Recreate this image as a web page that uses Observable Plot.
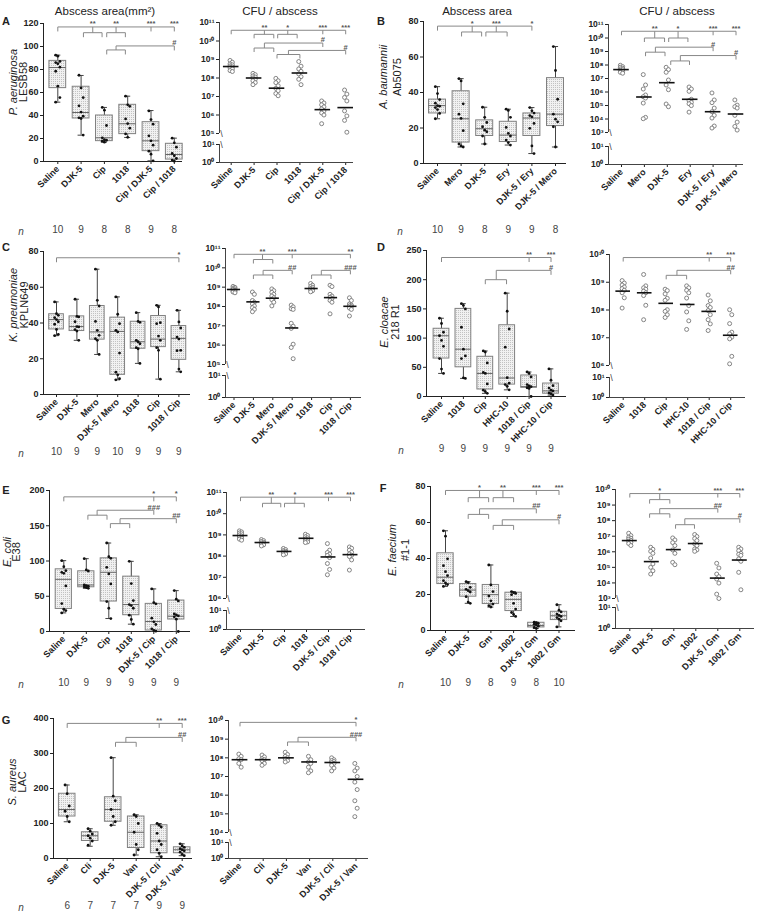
<!DOCTYPE html>
<html><head><meta charset="utf-8">
<script src="https://cdn.jsdelivr.net/npm/d3@7"></script>
<script src="https://cdn.jsdelivr.net/npm/@observablehq/plot@0.6"></script>
<style>
body{margin:0;background:#fff;}
#fig{position:relative;width:757px;height:920px;font-family:Arial,"Liberation Sans",Helvetica,sans-serif;color:#222;overflow:hidden;background:#fff}
.lbl{position:absolute;white-space:nowrap;transform:translate(-50%,-50%);line-height:1}
</style></head><body>
<svg width="0" height="0" style="position:absolute"><defs><pattern id="stip" width="2" height="2" patternUnits="userSpaceOnUse"><rect width="2" height="2" fill="#f1f1f1"/><rect width="1" height="1" fill="#c2c2c2"/></pattern></defs></svg>
<div id="fig"></div>
<script>
// ---------------- DATA ----------------
// A: P. aeruginosa LESB58
const catsA = ["Saline","DJK-5","Cip","1018","Cip / DJK-5","Cip / 1018"];
const nA = [10,9,8,8,9,8];
const areaPtsA = [[92.5,91.6,87,86,85,82,78.5,65.5,55.6,51.6],[75,64,55.6,48.4,43,39.4,38,37.4,23],[47,44.6,31.3,20.6,19,18.5,17.7,16.8],[56.8,49.3,48,37,33,29,24,21],[44,36.5,32.5,22.3,18,14.2,9,6.4,0.6],[20.3,16.2,12.5,7,5,2.6,1.2,0.3]];
const areaBoxA = [[51.6,63.8,81.7,87.5,92.5],[22.9,37.4,42.6,65,74.8],[16.8,17.7,20.6,40,47],[20.9,23.8,32.8,49.3,56.8],[0.6,9,18,34.2,44.3],[0,1.7,6.1,15.4,20.3]];
const logCfuA = [[8.95,8.85,8.76,8.71,8.65,8.6,8.55,8.49,8.4,8.35],[8.25,8.18,8.11,8.05,8.0,7.93,7.85,7.75,7.64],[7.98,7.85,7.75,7.58,7.44,7.31,7.16,7.04],[8.89,8.64,8.49,8.36,8.22,8.07,7.93,7.64],[6.76,6.65,6.55,6.44,6.33,6.22,6.11,6.0,5.53],[7.35,7.13,6.95,6.76,6.22,5.95,5.71,5.07]];
const logCfuMedA = [8.62,8.0,7.45,8.27,6.29,6.4];
const sigAreaA = [
 {y:117,x1:0,x2:5,drops:[0,4,5],labels:[[1.5,"**"],[2.5,"**"],[4,"***"],[5,"***"]]},
 {y:112,x1:1.1,x2:1.9,drops:[1.1,1.9],stem:[1.5,117]},
 {y:112,x1:2.1,x2:2.9,drops:[2.1,2.9],stem:[2.5,117]},
 {y:100.5,x1:2.5,x2:5,drops:[5],labels:[[5,"#"]]},
 {y:97,x1:2.1,x2:2.9,drops:[2.1,2.9],stem:[2.5,100.5]}];
const sigCfuA = [
 {y:10.58,x1:0,x2:5,drops:[0,4,5],labels:[[1.45,"**"],[2.47,"*"],[4,"***"],[5,"***"]]},
 {y:10.36,x1:1.0,x2:1.86,drops:[1.0,1.86],stem:[1.45,10.58]},
 {y:10.36,x1:2.03,x2:2.88,drops:[2.03,2.88],stem:[2.47,10.58]},
 {y:9.89,x1:1.45,x2:4,drops:[4],labels:[[4,"#"]]},
 {y:9.62,x1:1.0,x2:1.86,drops:[1.0,1.86],stem:[1.45,9.89]},
 {y:9.49,x1:2.5,x2:5,drops:[5],labels:[[5,"#"]]},
 {y:9.27,x1:2.0,x2:3.0,drops:[2.0,3.0],stem:[2.5,9.49]}];

// B: A. baumannii Ab5075
const catsB = ["Saline","Mero","DJK-5","Ery","DJK-5 / Ery","DJK-5 / Mero"];
const nB = [10,9,8,9,9,8];
const areaPtsB = [[43.3,39.4,36,34,32.6,32.3,31.5,30.4,28.2,25.2],[47.8,46.5,33.6,27.8,25.4,18.5,11,9.9,9.3],[31.7,26,23.1,20.7,18.8,17.9,15.5,11],[30.6,29.9,26,20.3,17,15.5,13.2,11.8,10.4],[31.5,29.7,28.4,27,26.3,22.6,19.8,9.9,5.6],[65.9,52.4,36.2,27.8,25,23.5,20.7,9.3]];
const areaBoxB = [[25.2,28.2,32.6,36,43.3],[9.3,11.8,25.2,40.7,47.8],[11,15.5,19.6,24.3,31.7],[10.4,12.1,16,23.5,30.6],[5.6,15.5,25.6,28.2,31.5],[9.3,21.1,27.8,48.1,65.9]];
const logCfuB = [[7.98,7.88,7.83,7.76,7.71,7.66,7.61,7.53,7.46,7.39],[7.29,6.52,6.22,5.78,5.65,5.55,5.18,4.12,4.02],[7.83,7.66,7.46,6.89,6.52,6.17,5.11,4.91],[6.37,6.22,6.05,5.46,5.36,5.23,5.13,4.99,4.51],[5.93,5.41,5.21,4.81,4.54,4.27,4.07,3.48,3.33],[5.41,5.03,4.91,4.81,4.27,3.77,3.45,3.18]];
const logCfuMedB = [7.66,5.63,6.69,5.46,4.54,4.37];
const sigAreaB = [
 {y:77.4,x1:0,x2:4,drops:[0,4],labels:[[1.47,"*"],[2.49,"***"],[4,"*"]]},
 {y:74.1,x1:1.02,x2:1.87,drops:[1.02,1.87],stem:[1.47,77.4]},
 {y:74.1,x1:2.05,x2:2.95,drops:[2.05,2.95],stem:[2.49,77.4]}];
const sigCfuB = [
 {y:10.5,x1:0,x2:5,drops:[0,4,5],labels:[[1.45,"**"],[2.47,"*"],[4,"***"],[5,"***"]]},
 {y:10.0,x1:1.0,x2:1.88,drops:[1.0,1.88],stem:[1.45,10.5]},
 {y:10.0,x1:2.06,x2:2.9,drops:[2.06,2.9],stem:[2.47,10.5]},
 {y:9.32,x1:1.48,x2:4,drops:[4],labels:[[4,"#"]]},
 {y:8.95,x1:1.05,x2:1.9,drops:[1.05,1.9],stem:[1.48,9.32]},
 {y:8.7,x1:2.57,x2:5,drops:[5],labels:[[5,"#"]]},
 {y:8.3,x1:2.15,x2:2.97,drops:[2.15,2.97],stem:[2.57,8.7]}];

// C: K. pneumoniae KPLN649
const catsC = ["Saline","DJK-5","Mero","DJK-5 / Mero","1018","Cip","1018 / Cip"];
const nC = [10,9,9,10,9,9,9];
const areaPtsC = [[51.8,45.2,44.3,43,41.9,40.7,39.3,36.4,33.6,32.9],[53.3,43.7,43.4,40.7,38,37.8,36.3,35.5,30.3],[70.1,52.7,49.5,40.9,35.9,33.1,31.2,30.3,22.4],[54.6,44.9,39.6,35.9,35,23.2,12.5,11,8.8,8.2],[45.8,40.9,40.4,30.3,29.5,28.4,26.2,25.6,17.4],[49.9,49,40.2,39.6,32.7,30.3,26.2,24.7,8.6],[47.1,40.6,37.2,32.1,31,24.7,24.5,14.2,12.7]];
const areaBoxC = [[32.9,36.4,41.9,44.9,51.8],[30.3,35.5,38,43.7,53.3],[22.4,30.7,35,49.5,70.1],[8.2,11,35.3,43,54.6],[17.4,25.6,29.5,40.7,45.8],[8.6,26.5,31,43.9,49.9],[12.7,19.4,31.4,38.3,47.1]];
const logCfuC = [[9.04,8.99,8.95,8.91,8.88,8.84,8.8,8.78,8.75,8.71],[8.75,8.63,8.31,8.22,8.13,8.03,7.94,7.85,7.73],[8.91,8.82,8.73,8.63,8.54,8.45,8.35,8.22,8.03],[8.07,7.98,7.88,7.85,7.13,6.98,6.87,6.05,5.88,5.3],[9.19,9.1,9.03,8.99,8.93,8.9,8.86,8.82,8.76],[9.1,9.03,8.63,8.54,8.48,8.41,8.31,8.22,7.62],[8.45,8.31,8.13,8.07,8.03,7.99,7.92,7.85,7.51]];
const logCfuMedC = [8.88,8.24,8.43,6.89,8.93,8.46,8.01];
const sigAreaC = [{y:76.5,x1:0,x2:6,drops:[0,6],labels:[[6,"*"]]}];
const sigCfuC = [
 {y:10.7,x1:0,x2:6,drops:[0,3,6],labels:[[1.47,"**"],[3,"***"],[6,"**"]]},
 {y:10.43,x1:1,x2:2,drops:[1,2],stem:[1.47,10.7]},
 {y:9.87,x1:1.5,x2:3,drops:[3],labels:[[3,"##"]]},
 {y:9.63,x1:1,x2:2,drops:[1,2],stem:[1.5,9.87]},
 {y:9.87,x1:4.5,x2:6,drops:[6],labels:[[6,"###"]]},
 {y:9.63,x1:4,x2:5,drops:[4,5],stem:[4.5,9.87]}];

// D: E. cloacae 218 R1
const catsD = ["Saline","1018","Cip","HHC-10","1018 / Cip","HHC-10 / Cip"];
const nD = [9,9,9,9,9,9];
const areaPtsD = [[134,125,110,104,96,86,65,47,39.5],[159,156,150,118.6,81,69.5,65,32,31],[78,76,57.5,41.3,39.5,21.6,10.8,8.4,5.4],[177,146,115.6,84.4,32.3,22.8,20.4,17.4,11.4],[42,39.5,33.5,20.4,18,16.8,15,13.8,0],[47.3,28,18.6,14.4,10.8,9.6,6,4.8,2.4]];
const areaBoxD = [[39.5,65,104,116,134],[31,50,81,150,159],[5.4,12,39.5,68,78],[11.4,20.4,31.7,122,177],[0,15,16.8,36,42],[2.4,4.8,9.6,22.2,47.3]];
const logCfuD = [[9.06,8.97,8.9,8.83,8.77,8.71,8.62,8.44,8.07],[9.28,8.87,8.8,8.75,8.68,8.62,8.52,8.17,7.65],[8.75,8.7,8.58,8.42,8.35,8.01,7.95,7.83,7.73],[8.87,8.8,8.71,8.62,8.43,8.16,7.93,7.61,7.3],[8.54,8.33,8.16,8.09,7.98,7.83,7.65,7.5,7.26],[8.01,7.83,7.51,7.2,7.14,7.02,6.96,6.33,6.06]];
const logCfuMedD = [8.68,8.62,8.24,8.2,7.95,7.09];
const sigAreaD = [
 {y:238,x1:0,x2:5,drops:[0,4,5],labels:[[4,"**"],[5,"***"]]},
 {y:216,x1:2.5,x2:5,drops:[5],labels:[[5,"#"]]},
 {y:200,x1:2,x2:2.97,drops:[2,2.97],stem:[2.5,216]}];
const sigCfuD = [
 {y:9.89,x1:0,x2:5,drops:[0,4,5],labels:[[4,"**"],[5,"***"]]},
 {y:9.43,x1:2.5,x2:5,drops:[5],labels:[[5,"##"]]},
 {y:9.25,x1:2,x2:2.95,drops:[2,2.95],stem:[2.5,9.43]}];

// E: E. coli E38
const catsE = ["Saline","DJK-5","Cip","1018","DJK-5 / Cip","1018 / Cip"];
const nE = [10,9,9,9,9,9];
const areaPtsE = [[100.5,92,86.3,84,82.5,64.6,39.6,31.6,29.7,26.4],[103.3,87.3,85.8,66,65,64.2,63.2,62.3,61.3],[125.5,106,103.8,91,81.6,67.5,42.5,33,18.4],[99.5,68,43.9,38.2,36.8,33,23.1,17,10.4],[60.4,41,39.2,18.9,13.7,9.9,3.8,1.4,0.5],[58,45.8,43.4,25,23.6,22.2,20.8,17.5,0]];
const areaBoxE = [[26.4,32,74,88.2,100.5],[61.3,62.7,66,85.4,103.3],[18.4,42.5,84,103.8,125.5],[10.4,23.1,38.2,77.8,99.5],[0,1.4,14.2,39.2,60.4],[0,17,21.7,43.9,58]];
const logCfuE = [[9.19,9.14,9.09,9.05,9.0,8.95,8.9,8.84,8.8,8.75],[8.78,8.73,8.69,8.65,8.62,8.59,8.56,8.53,8.48],[8.36,8.31,8.26,8.23,8.2,8.17,8.14,8.1,8.06],[9.03,8.97,8.91,8.86,8.81,8.76,8.72,8.67,8.64],[8.59,8.28,8.17,8.09,8.03,7.93,7.65,7.37,7.12],[8.43,8.37,8.28,8.18,8.1,8.04,7.98,7.82,7.34]];
const logCfuMedE = [8.97,8.64,8.22,8.84,7.96,8.07];
const sigAreaE = [
 {y:191,x1:0,x2:5,drops:[0,4,5],labels:[[4,"*"],[5,"*"]]},
 {y:172,x1:1.48,x2:4,drops:[4],labels:[[4,"###"]]},
 {y:165,x1:1.07,x2:1.92,drops:[1.07,1.92],stem:[1.48,172]},
 {y:160,x1:2.5,x2:5,drops:[5],labels:[[5,"##"]]},
 {y:153,x1:2.07,x2:2.93,drops:[2.07,2.93],stem:[2.5,160]}];
const sigCfuE = [
 {y:10.78,x1:0,x2:5,drops:[0,4,5],labels:[[1.4,"**"],[2.47,"*"],[4,"***"],[5,"***"]]},
 {y:10.49,x1:1.0,x2:1.83,drops:[1,1.83],stem:[1.4,10.78]},
 {y:10.49,x1:2.0,x2:2.9,drops:[2,2.9],stem:[2.47,10.78]}];

// F: E. faecium #1-1
const catsF = ["Saline","DJK-5","Gm","1002","DJK-5 / Gm","1002 / Gm"];
const nF = [10,9,8,9,8,10];
const areaPtsF = [[55.4,52.4,39.8,36,32.7,30.5,27.7,26.4,25.5,24.5],[27.1,26.6,24,22.9,22.1,21.4,18.8,15.8,15.1],[36.4,25.3,21.6,19.1,16.5,14.7,13.8,13],[21.6,21,20.6,19.9,15.1,11.9,10,8.9,7.8],[4.6,4.3,3.9,3.5,3.2,2.4,1.7,1.1],[14.3,11.3,10.4,9.1,8.4,7.8,7.2,6.3,5.4,2]];
const areaBoxF = [[24.5,25.8,29.6,42.9,55.4],[15.1,18.8,22.5,25.8,27.1],[13,14.7,19.9,25.3,36.4],[7.8,10.8,17.3,21,21.6],[1.1,1.7,2.8,4.3,4.6],[2,5.8,8.2,10.4,14.3]];
const logCfuF = [[7.19,7.04,6.94,6.87,6.81,6.74,6.68,6.61,6.53,6.4],[6.29,6.16,6.03,5.9,5.6,5.22,5.0,4.78,4.57],[6.89,6.76,6.59,6.4,6.12,5.9,5.32,5.17],[7.11,6.98,6.85,6.72,6.51,6.4,6.18,6.12,6.03],[5.26,4.96,4.57,4.4,4.25,3.99,3.28,3.0],[6.29,6.18,6.07,5.9,5.84,5.77,5.54,5.39,4.68,3.56]];
const logCfuMedF = [6.72,5.37,6.14,6.53,4.31,5.47];
const sigAreaF = [
 {y:77.8,x1:0,x2:5,drops:[0,4,5],labels:[[1.5,"*"],[2.53,"**"],[4,"***"],[5,"***"]]},
 {y:73.8,x1:1,x2:1.9,drops:[1,1.9],stem:[1.5,77.8]},
 {y:73.8,x1:2.1,x2:3,drops:[2.1,3],stem:[2.53,77.8]},
 {y:67.6,x1:1.5,x2:4,drops:[4],labels:[[4,"##"]]},
 {y:64.5,x1:1,x2:1.9,drops:[1,1.9],stem:[1.5,67.6]},
 {y:61.5,x1:2.5,x2:5,drops:[5],labels:[[5,"#"]]},
 {y:58.4,x1:2.1,x2:3,drops:[2.1,3],stem:[2.5,61.5]}];
const sigCfuF = [
 {y:9.74,x1:0,x2:5,drops:[0,4,5],labels:[[1.36,"*"],[4,"***"],[5,"***"]]},
 {y:9.35,x1:0.9,x2:1.82,drops:[0.9,1.82],stem:[1.36,9.74]},
 {y:8.77,x1:1.36,x2:4,drops:[4],labels:[[4,"##"]]},
 {y:8.44,x1:0.9,x2:1.82,drops:[0.9,1.82],stem:[1.36,8.77]},
 {y:8.12,x1:2.5,x2:5,drops:[5],labels:[[5,"#"]]},
 {y:7.74,x1:2.08,x2:2.94,drops:[2.08,2.94],stem:[2.5,8.12]}];

// G: S. aureus LAC
const catsG = ["Saline","Cli","DJK-5","Van","DJK-5 / Cli","DJK-5 / Van"];
const nG = [6,7,7,7,9,9];
const areaPtsG = [[210,185,150,135,120,105],[85,78,70,65,58,50,38],[288,178,165,140,120,105,95],[125,120,100,75,40,25,10],[100,95,90,72,50,40,25,15,5],[42,36,32,28,25,22,18,12,8]];
const areaBoxG = [[105,120,140,185,210],[35,50,65,75,85],[95,105,140,175,288],[10,30,75,120,125],[5,15,50,95,100],[8,15,25,32,42]];
const logCfuG = [[8.2,8.08,7.95,7.9,7.7,7.5],[8.15,8.05,7.95,7.9,7.85,7.7,7.6],[8.3,8.18,8.08,8.0,7.95,7.85,7.78],[8.08,7.9,7.78,7.7,7.5,7.3,7.2],[8.0,7.9,7.85,7.8,7.75,7.7,7.6,7.45,7.3],[7.7,7.45,7.3,7.0,6.7,6.3,5.7,5.3,4.85]];
const logCfuMedG = [7.9,7.9,8.0,7.78,7.75,6.85];
const sigAreaG = [
 {y:386,x1:0,x2:5,drops:[0,4,5],labels:[[4,"**"],[5,"***"]]},
 {y:346,x1:2.55,x2:5,drops:[5],labels:[[5,"##"]]},
 {y:332,x1:2.1,x2:3.0,drops:[2.1,3.0],stem:[2.55,346]}];
const sigCfuG = [
 {y:9.9,x1:0,x2:5,drops:[0,5],labels:[[5,"*"]]},
 {y:9.1,x1:2.5,x2:5,drops:[5],labels:[[5,"###"]]},
 {y:8.85,x1:2.05,x2:2.95,drops:[2.05,2.95],stem:[2.5,9.1]}];

// ---------------- LAYOUT ----------------
const fig = document.getElementById("fig");
const STYLE = {fontFamily: "Arial, 'Liberation Sans', Helvetica, sans-serif", fontSize: "9px", overflow: "visible", background: "transparent", color: "#222"};
const SUP = {"0":"⁰","1":"¹","2":"²","3":"³","4":"⁴","5":"⁵","6":"⁶","7":"⁷","8":"⁸","9":"⁹"};
const pow10 = v => "10" + String(Math.round(Math.log10(v))).split("").map(c => SUP[c]).join("");
const ML = 40, MR = 6, MT = 12;
const BW = 0.36, CW = 0.13, MW = 0.34;
const jit = j => ((j % 3) - 1) * 0.09;
const jitC = j => ((j % 2) ? 0.05 : -0.05);

function put(el, left, top) {
  el.style.position = "absolute"; el.style.left = left + "px"; el.style.top = top + "px";
  fig.appendChild(el);
}
function label(html, x, y, o = {}) {
  const d = document.createElement("div");
  d.className = "lbl";
  d.innerHTML = html;
  d.style.left = x + "px"; d.style.top = y + "px";
  d.style.fontSize = (o.size || 11) + "px";
  if (o.weight) d.style.fontWeight = o.weight;
  if (o.style) d.style.fontStyle = o.style;
  if (o.color) d.style.color = o.color;
  if (o.rotate) d.style.transform = "translate(-50%,-50%) rotate(" + o.rotate + "deg)";
  fig.appendChild(d);
}
function sigGeometry(spec, down) {
  const segs = [], labs = [];
  for (const c of spec) {
    segs.push({x1: c.x1, y1: c.y, x2: c.x2, y2: c.y});
    for (const d of (c.drops || [])) segs.push({x1: d, y1: c.y, x2: d, y2: c.y - down});
    if (c.stem) segs.push({x1: c.stem[0], y1: c.y, x2: c.stem[0], y2: c.stem[1]});
    for (const [x, t] of (c.labels || [])) labs.push({x, y: c.y, t});
  }
  return {segs, labs};
}
function xAxis(cats) {
  return Plot.axisX({ticks: d3.range(cats.length), tickFormat: i => cats[i], tickRotate: -45, tickSize: 3, tickPadding: 3, fontSize: 9, fontWeight: "bold", label: null});
}

function areaPanel(P, L) {
  const MB = L.nY - L.yBot + 8;
  const xd = [(L.x0 - L.first) / L.step, (L.x1 - L.first) / L.step];
  const down = 4.5 * P.yMax / (L.yBot - L.yTop);
  const rows = P.box.map((b, i) => ({i, min: b[0], q1: b[1], med: b[2], q3: b[3], max: b[4]}));
  const dots = P.pts.flatMap((a, i) => a.map((v, j) => ({i, v, j})));
  const g = sigGeometry(P.sig, down);
  const svg = Plot.plot({
    width: L.x1 - L.x0 + ML + MR, height: L.yBot - L.yTop + MT + MB,
    marginLeft: ML, marginRight: MR, marginTop: MT, marginBottom: MB,
    style: STYLE,
    x: {domain: xd},
    y: {domain: [0, P.yMax]},
    marks: [
      Plot.axisY({ticks: d3.range(0, P.yMax + 1e-9, P.yStep), tickSize: 3, tickPadding: 2, fontSize: 9, fontWeight: "bold", label: null}),
      xAxis(P.cats),
      Plot.ruleX([xd[0]], {stroke: "#222"}),
      Plot.ruleY([0], {stroke: "#222"}),
      Plot.ruleX(rows, {x: "i", y1: "min", y2: "max", stroke: "#444"}),
      Plot.rect(rows, {x1: d => d.i - BW, x2: d => d.i + BW, y1: "q1", y2: "q3", fill: "url(#stip)", stroke: "#808080"}),
      Plot.ruleY(rows, {y: "med", x1: d => d.i - BW, x2: d => d.i + BW, stroke: "#666"}),
      Plot.ruleY(rows, {y: "min", x1: d => d.i - CW, x2: d => d.i + CW, stroke: "#444"}),
      Plot.ruleY(rows, {y: "max", x1: d => d.i - CW, x2: d => d.i + CW, stroke: "#444"}),
      Plot.dot(dots, {x: d => d.i + jit(d.j), y: "v", r: 1.4, fill: "#111", stroke: "none"}),
      Plot.link(g.segs, {x1: "x1", y1: "y1", x2: "x2", y2: "y2", stroke: "#888"}),
      Plot.text(g.labs, {x: "x", y: "y", text: "t", dy: -3, fontSize: 7.5, fontWeight: "bold", fill: "#555"}),
      Plot.text(P.n, {x: (d, i) => i, text: d => String(d), frameAnchor: "bottom", dy: L.nY - L.yBot, fontSize: 10, fill: "#444"})
    ]
  });
  put(svg, L.x0 - ML, L.yTop - MT);
  label("n", L.nX, L.nY, {style: "italic", size: 10, color: "#444"});
}

function cfuPanel(P, L) {
  const MB = 62;
  const xd = [(L.x0 - L.first) / L.step, (L.x1 - L.first) / L.step];
  const W = L.x1 - L.x0 + ML + MR;
  const down = 4 * (P.hi - P.lo) / (L.yBreak - L.yTop);
  const dots = P.pts.flatMap((a, i) => a.map((e, j) => ({i, v: 10 ** e, j})));
  const meds = P.med.map((e, i) => ({i, v: 10 ** e}));
  const g = sigGeometry(P.sig, down);
  const segs = g.segs.map(s => ({x1: s.x1, x2: s.x2, y1: 10 ** s.y1, y2: 10 ** s.y2}));
  const labs = g.labs.map(l => ({x: l.x, t: l.t, y: 10 ** l.y}));
  const upper = Plot.plot({
    width: W, height: L.yBreak - L.yTop + MT,
    marginLeft: ML, marginRight: MR, marginTop: MT, marginBottom: 0,
    style: STYLE,
    x: {domain: xd, axis: null},
    y: {type: "log", domain: [10 ** P.lo, 10 ** P.hi]},
    marks: [
      Plot.axisY({ticks: d3.range(P.lo, P.hi + 1).map(e => 10 ** e), tickFormat: pow10, tickSize: 3, tickPadding: 2, fontSize: 8.5, fontWeight: "bold", label: null}),
      Plot.ruleX([xd[0]], {stroke: "#444"}),
      Plot.text([10 ** P.lo], {x: () => xd[0], y: d => d, text: () => "\\", fontSize: 9, dx: 2, dy: 1, fill: "#444"}),
      Plot.dot(dots, {x: d => d.i + jitC(d.j), y: "v", r: 2, stroke: "#777", strokeWidth: 0.9, fill: "white"}),
      Plot.ruleY(meds, {y: "v", x1: d => d.i - MW, x2: d => d.i + MW, stroke: "#111", strokeWidth: 1.6}),
      Plot.link(segs, {x1: "x1", y1: "y1", x2: "x2", y2: "y2", stroke: "#888"}),
      Plot.text(labs, {x: "x", y: "y", text: "t", dy: -3, fontSize: 7.5, fontWeight: "bold", fill: "#555"})
    ]
  });
  const lower = Plot.plot({
    width: W, height: L.yBot - L.yLowTop + 2 + MB,
    marginLeft: ML, marginRight: MR, marginTop: 2, marginBottom: MB,
    style: STYLE,
    x: {domain: xd},
    y: {type: "log", domain: [1, 10]},
    marks: [
      Plot.axisY({ticks: [1, 10], tickFormat: pow10, tickSize: 3, tickPadding: 2, fontSize: 8.5, fontWeight: "bold", label: null}),
      xAxis(P.cats),
      Plot.ruleX([xd[0]], {stroke: "#444"}),
      Plot.ruleY([1], {stroke: "#444"}),
      Plot.text([10], {x: () => xd[0], y: d => d, text: () => "\\", fontSize: 9, dx: 2, dy: 1, fill: "#444"})
    ]
  });
  put(upper, L.x0 - ML, L.yTop - MT);
  put(lower, L.x0 - ML, L.yLowTop - 2);
}

// ---------------- DRAW ----------------
areaPanel({cats: catsA, n: nA, pts: areaPtsA, box: areaBoxA, sig: sigAreaA, yMax: 120, yStep: 20},
  {x0: 43, first: 57.3, step: 23.3, x1: 182, yTop: 23, yBot: 161, nY: 232, nX: 21});
cfuPanel({cats: catsA, pts: logCfuA, med: logCfuMedA, sig: sigCfuA, lo: 5, hi: 11},
  {x0: 219, first: 230.7, step: 22.9, x1: 353, yTop: 22, yBreak: 133, yLowTop: 144, yBot: 162});
areaPanel({cats: catsB, n: nB, pts: areaPtsB, box: areaBoxB, sig: sigAreaB, yMax: 80, yStep: 20},
  {x0: 423, first: 437, step: 23.6, x1: 566, yTop: 21, yBot: 163, nY: 232, nX: 400});
cfuPanel({cats: catsB, pts: logCfuB, med: logCfuMedB, sig: sigCfuB, lo: 3, hi: 11},
  {x0: 608, first: 621, step: 22.9, x1: 743, yTop: 24, yBreak: 132, yLowTop: 146, yBot: 164});
areaPanel({cats: catsC, n: nC, pts: areaPtsC, box: areaBoxC, sig: sigAreaC, yMax: 80, yStep: 20},
  {x0: 43, first: 56, step: 20.4, x1: 190, yTop: 251, yBot: 394, nY: 454, nX: 21});
cfuPanel({cats: catsC, pts: logCfuC, med: logCfuMedC, sig: sigCfuC, lo: 5, hi: 11},
  {x0: 225, first: 233.5, step: 19.4, x1: 361, yTop: 248, yBreak: 364, yLowTop: 375, yBot: 397});
areaPanel({cats: catsD, n: nD, pts: areaPtsD, box: areaBoxD, sig: sigAreaD, yMax: 250, yStep: 50},
  {x0: 426, first: 441, step: 21.9, x1: 566, yTop: 250, yBot: 396, nY: 451, nX: 401});
cfuPanel({cats: catsD, pts: logCfuD, med: logCfuMedD, sig: sigCfuD, lo: 6, hi: 10},
  {x0: 609, first: 622.7, step: 21.5, x1: 745, yTop: 254, yBreak: 365, yLowTop: 377, yBot: 397});
areaPanel({cats: catsE, n: nE, pts: areaPtsE, box: areaBoxE, sig: sigAreaE, yMax: 200, yStep: 50},
  {x0: 49, first: 63.3, step: 22.5, x1: 190, yTop: 490, yBot: 631, nY: 685, nX: 21});
cfuPanel({cats: catsE, pts: logCfuE, med: logCfuMedE, sig: sigCfuE, lo: 6, hi: 11},
  {x0: 226, first: 240, step: 22, x1: 365, yTop: 492, yBreak: 598, yLowTop: 610, yBot: 629});
areaPanel({cats: catsF, n: nF, pts: areaPtsF, box: areaBoxF, sig: sigAreaF, yMax: 80, yStep: 20},
  {x0: 430, first: 445, step: 22.7, x1: 575, yTop: 486, yBot: 630, nY: 685, nX: 401});
cfuPanel({cats: catsF, pts: logCfuF, med: logCfuMedF, sig: sigCfuF, lo: 3, hi: 10},
  {x0: 615, first: 629.3, step: 22, x1: 754, yTop: 489, yBreak: 598, yLowTop: 607, yBot: 628});
areaPanel({cats: catsG, n: nG, pts: areaPtsG, box: areaBoxG, sig: sigAreaG, yMax: 400, yStep: 100},
  {x0: 53, first: 66.7, step: 23, x1: 192, yTop: 718, yBot: 858, nY: 908, nX: 21});
cfuPanel({cats: catsG, pts: logCfuG, med: logCfuMedG, sig: sigCfuG, lo: 4, hi: 10},
  {x0: 228, first: 239.5, step: 23.2, x1: 368, yTop: 720, yBreak: 832, yLowTop: 842, yBot: 858});

// ---------------- TEXT ----------------
label("Abscess area(mm²)", 105, 12, {size: 11.5});
label("CFU / abscess", 280, 12, {size: 11.5});
label("Abscess area", 477, 12, {size: 11.5});
label("CFU / abscess", 677, 12, {size: 11.5});
[["A", 6, 21], ["B", 381, 21], ["C", 6, 247], ["D", 381, 247], ["E", 6, 490], ["F", 383, 488], ["G", 6, 720]]
  .forEach(([t, x, y]) => label(t, x, y, {size: 11, weight: "bold"}));
const species = [
  ["P. aeruginosa", "LESB58", 12.7, 23, 82],
  ["A. baumannii", "Ab5075", 383, 397, 77],
  ["K. pneumoniae", "KPLN649", 13, 24, 305],
  ["E. cloacae", "218 R1", 384, 395, 322],
  ["E. coli", "E38", 7, 16, 552],
  ["E. faecium", "#1-1", 392, 405, 550],
  ["S. aureus", "LAC", 12, 22, 782]
];
species.forEach(([a, b, xa, xb, y]) => {
  label(a, xa, y, {size: 11, style: "italic", rotate: -90});
  label(b, xb, y, {size: 11, rotate: -90});
});
</script>
</body></html>
